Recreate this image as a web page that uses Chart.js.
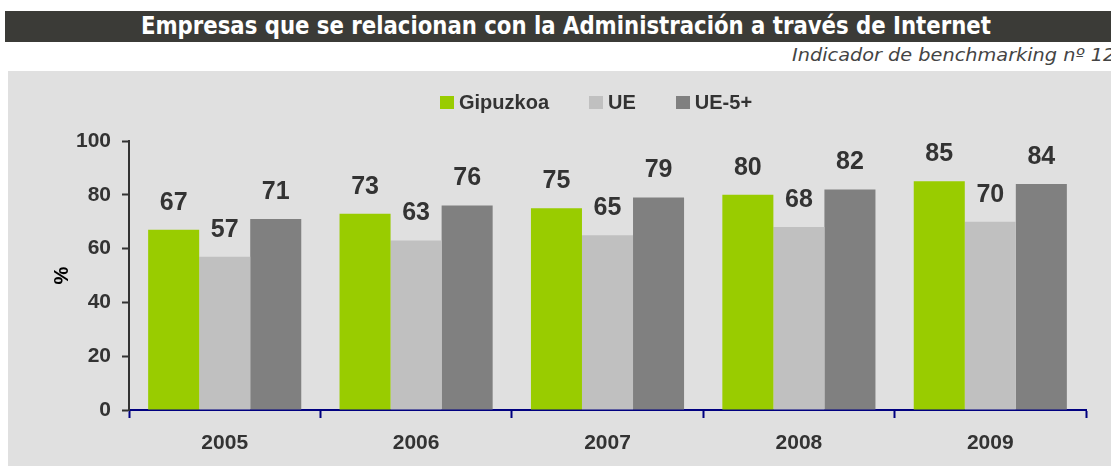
<!DOCTYPE html>
<html>
<head>
<meta charset="utf-8">
<script src="https://cdn.jsdelivr.net/npm/chart.js@4/dist/chart.umd.min.js"></script>
<style>
  html, body { margin: 0; padding: 0; background: #fff; width: 1111px; height: 466px; overflow: hidden; position: relative; }
  #titleBar { position: absolute; left: 5px; top: 11px; width: 1106px; height: 31px; background: #3b3b37; }
  #title { position: absolute; left: 10px; top: 12px; width: 1111px; text-align: center; color: #fff;
           font: bold 24px "DejaVu Sans Condensed", "Liberation Sans Narrow", "DejaVu Sans", sans-serif; white-space: nowrap; line-height: 28px; }
  #title span { display: inline-block; transform-origin: center; }
  #subtitle { position: absolute; left: 792px; top: 45px; color: #444; white-space: nowrap;
              font: italic 17px "DejaVu Sans", sans-serif; transform-origin: left center; transform: scaleX(1.135); }
  #panel { position: absolute; left: 8px; top: 71px; width: 1103px; height: 395px; background: #e0e0e0; }
  #chartBox { position: absolute; left: 0; top: 0; width: 1103px; height: 395px; }
  #legend { position: absolute; top: 91px; left: 440px; display: flex; align-items: center;
            font: bold 20px "Liberation Sans", Arial, sans-serif; color: #333; }
  .item { display: flex; align-items: center; }
  .swatch { width: 14px; height: 13px; margin-right: 5px; }
</style>
</head>
<body>
<div id="titleBar"></div>
<div id="title"><span>Empresas que se relacionan con la Administración a través de Internet</span></div>
<div id="subtitle">Indicador de benchmarking nº 12</div>
<div id="panel"><div id="chartBox"><canvas id="grafico"></canvas></div></div>
<div id="legend"></div>
<script>
// Datos del indicador
const anios = ['2005', '2006', '2007', '2008', '2009'];
const series = ['Gipuzkoa', 'UE', 'UE-5+'];
const gipuzkoa = [67, 73, 75, 80, 85];
const ue = [57, 63, 65, 68, 70];
const ue5 = [71, 76, 79, 82, 84];
const ticksY = [0, 20, 40, 60, 80, 100];
const colores = ['#99cc00', '#c0c0c0', '#808080'];

const textColor = '#333333';
const fontFamily = '"Liberation Sans", Arial, sans-serif';

// Ajustar el titulo al ancho de la barra
const tituloSpan = document.querySelector('#title span');
const anchoTitulo = tituloSpan.getBoundingClientRect().width;
tituloSpan.style.transform = 'scaleX(' + (850 / anchoTitulo) + ')';

// Leyenda
const leyenda = document.getElementById('legend');
const gaps = [40, 40, 0];
series.forEach((nombre, i) => {
    const item = document.createElement('div');
    item.className = 'item';
    item.style.marginRight = gaps[i] + 'px';
    item.innerHTML = '<div class="swatch" style="background:' + colores[i] + '"></div><span>' + nombre + '</span>';
    leyenda.appendChild(item);
});

// Etiquetas con el valor encima de cada barra
const etiquetasValor = {
    id: 'etiquetasValor',
    afterDatasetsDraw(chart) {
        const ctx = chart.ctx;
        ctx.save();
        ctx.font = 'bold 25px ' + fontFamily;
        ctx.fillStyle = textColor;
        ctx.textAlign = 'center';
        ctx.textBaseline = 'middle';
        chart.data.datasets.forEach((ds, i) => {
            chart.getDatasetMeta(i).data.forEach((bar, j) => {
                ctx.fillText(ds.data[j], bar.x, bar.y - 27);
            });
        });
        ctx.restore();
    }
};

const valores = [gipuzkoa, ue, ue5];

new Chart(document.getElementById('grafico'), {
    type: 'bar',
    data: {
        labels: anios,
        datasets: series.map((nombre, i) => ({
            label: nombre,
            data: valores[i],
            backgroundColor: colores[i],
            borderWidth: 0,
            categoryPercentage: 0.8,
            barPercentage: 1.0
        }))
    },
    options: {
        responsive: true,
        maintainAspectRatio: false,
        animation: false,
        layout: { padding: { left: 40, right: 25, top: 70, bottom: 0 } },
        plugins: {
            legend: { display: false },
            tooltip: { enabled: false }
        },
        scales: {
            x: {
                grid: {
                    offset: true,
                    drawOnChartArea: false,
                    drawTicks: true,
                    tickLength: 8,
                    tickWidth: 2,
                    tickColor: '#000080'
                },
                border: { color: '#000080', width: 2 },
                ticks: {
                    color: textColor,
                    padding: 13,
                    font: { family: fontFamily, size: 21, weight: 'bold' }
                },
                afterFit: scale => { scale.height = 56; }
            },
            y: {
                min: 0,
                max: 100,
                afterBuildTicks: scale => { scale.ticks = ticksY.map(v => ({ value: v })); },
                grid: {
                    drawOnChartArea: false,
                    drawTicks: true,
                    tickLength: 7,
                    tickWidth: 2,
                    tickColor: textColor
                },
                border: { color: textColor, width: 2 },
                ticks: {
                    color: textColor,
                    padding: 11,
                    font: { family: fontFamily, size: 21, weight: 'bold' }
                },
                title: {
                    display: true,
                    text: '%',
                    color: '#000',
                    padding: { top: 2, bottom: 0 },
                    font: { family: fontFamily, size: 20, weight: 'bold' }
                },
                afterFit: scale => { scale.width = 81; }
            }
        }
    },
    plugins: [etiquetasValor]
});
</script>
</body>
</html>
